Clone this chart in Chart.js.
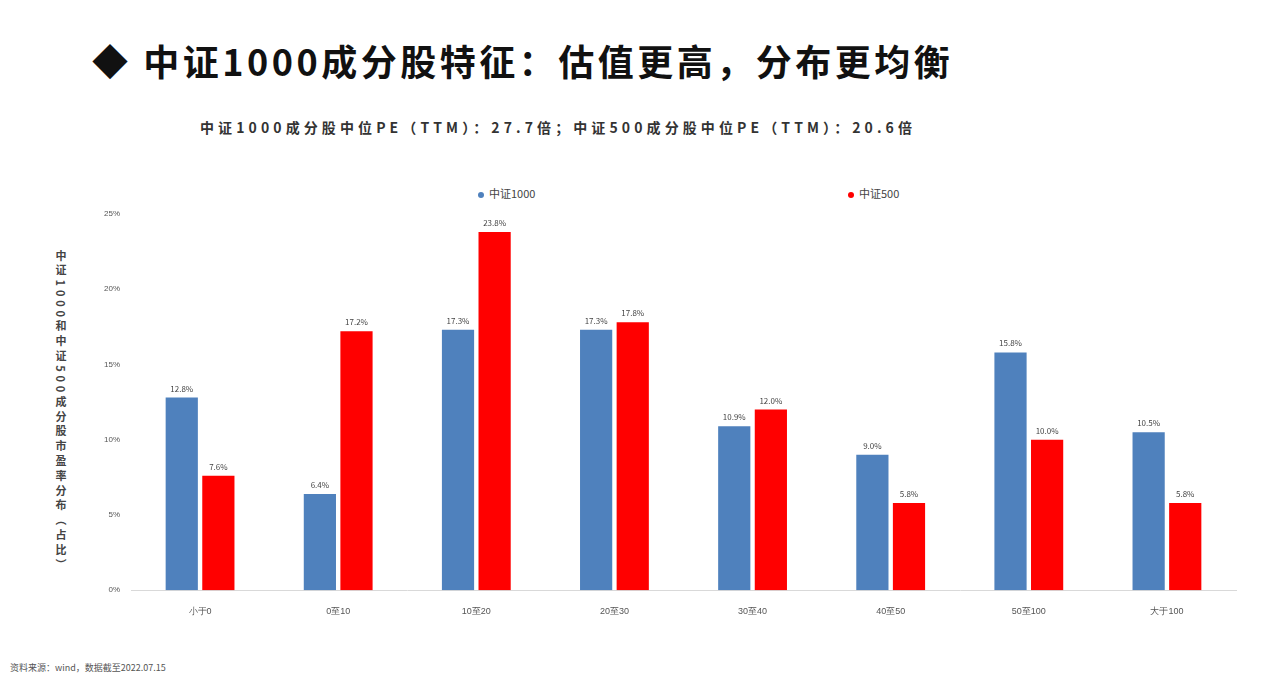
<!DOCTYPE html>
<html>
<head>
<meta charset="utf-8">
<script src="https://cdn.jsdelivr.net/npm/chart.js@4.4.0/dist/chart.umd.min.js"></script>
<style>
    html, body { margin: 0; padding: 0; background: #fff; }
    body { width: 1280px; height: 675px; position: relative; overflow: hidden; font-family: "Noto Sans CJK SC", sans-serif; }
    #chart { position: absolute; left: 0; top: 0; }
    .title { position: absolute; left: 92px; top: 34px; font-size: 36px; font-weight: bold; color: #111; letter-spacing: 3.5px; white-space: nowrap; }
    .subtitle { position: absolute; left: 200px; top: 117px; font-size: 14px; font-weight: bold; color: #333; letter-spacing: 4.1px; white-space: nowrap; }
    .legend { position: absolute; top: 185px; font-size: 11px; color: #444; white-space: nowrap; }
    .legend i { display: inline-block; width: 6px; height: 6px; border-radius: 50%; margin-right: 5px; vertical-align: middle; }
    .ytitle { position: absolute; left: 53px; top: 250px; writing-mode: vertical-rl; font-size: 11px; font-weight: bold; color: #444; letter-spacing: 3.8px; white-space: nowrap; }
    .source { position: absolute; left: 10px; top: 661px; font-size: 9px; color: #555; white-space: nowrap; }
</style>
</head>
<body>
<div class="title">◆ 中证1000成分股特征：估值更高，分布更均衡</div>
<div class="subtitle">中证1000成分股中位PE（TTM）：27.7倍；中证500成分股中位PE（TTM）：20.6倍</div>
<div class="legend" style="left:478px"><i style="background:#4F81BD"></i>中证1000</div>
<div class="legend" style="left:848px"><i style="background:#FF0000"></i>中证500</div>
<div class="ytitle">中证1000和中证500成分股市盈率分布（占比）</div>
<div class="source">资料来源：wind，数据截至2022.07.15</div>
<canvas id="chart" width="1280" height="675"></canvas>
<script>
const categories = ["小于0", "0至10", "10至20", "20至30", "30至40", "40至50", "50至100", "大于100"];
const csi1000 = [12.8, 6.4, 17.3, 17.3, 10.9, 9.0, 15.8, 10.5];
const csi500 = [7.6, 17.2, 23.8, 17.8, 12.0, 5.8, 10.0, 5.8];
const yTicks = [0, 5, 10, 15, 20, 25];

const barLabels = {
    id: "barLabels",
    afterDatasetsDraw(chart) {
        const ctx = chart.ctx;
        ctx.save();
        ctx.font = "8px 'Noto Sans CJK SC', sans-serif";
        ctx.fillStyle = "#444";
        ctx.textAlign = "center";
        ctx.textBaseline = "bottom";
        chart.data.datasets.forEach((ds, i) => {
            chart.getDatasetMeta(i).data.forEach((bar, j) => {
                ctx.fillText(ds.data[j].toFixed(1) + "%", bar.x, bar.y - 5);
            });
        });
        ctx.restore();
    },
};

new Chart(document.getElementById("chart"), {
    type: "bar",
    data: {
        labels: categories,
        datasets: [
            { label: "中证1000", data: csi1000, backgroundColor: "#4F81BD" },
            { label: "中证500", data: csi500, backgroundColor: "#FF0000" },
        ],
    },
    options: {
        responsive: false,
        animation: false,
        layout: { padding: { left: 91, right: 44, top: 214, bottom: 50 } },
        plugins: { legend: { display: false }, tooltip: { enabled: false } },
        datasets: { bar: { categoryPercentage: 0.53, barPercentage: 0.88 } },
        scales: {
            x: {
                grid: { display: false },
                border: { color: "#d9d9d9" },
                ticks: { color: "#555", font: { size: 9 }, padding: 8 },
            },
            y: {
                min: 0,
                max: 25,
                afterFit: (scale) => { scale.width = 40; },
                afterBuildTicks: (scale) => { scale.ticks = yTicks.map((v) => ({ value: v })); },
                grid: { display: false },
                border: { display: false },
                ticks: { color: "#555", font: { size: 8 }, callback: (v) => v + "%" },
            },
        },
    },
    plugins: [barLabels],
});
</script>
</body>
</html>
